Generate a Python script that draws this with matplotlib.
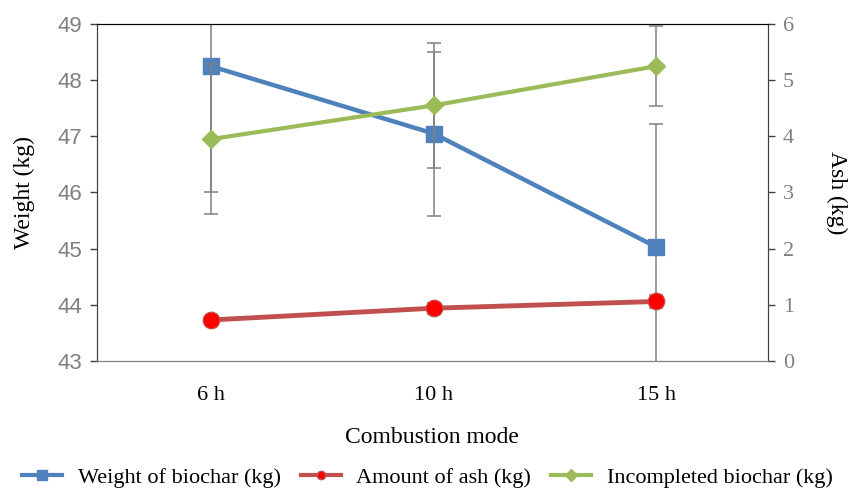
import matplotlib
matplotlib.use('Agg')
from matplotlib import pyplot as plt
from matplotlib.lines import Line2D

modes = ['6 h', '10 h', '15 h']
biochar = [48.25, 47.05, 45.03]
biochar_err = [2.25, 1.46, 2.19]
ash = [0.73, 0.94, 1.06]
ash_err = [0.05, 0.1, 0.12]
incompleted = [3.95, 4.55, 5.25]
incompleted_err = [1.33, 1.12, 0.71]

serif = 'Liberation Serif'
blue, red_line, red_dot, green = '#4F81BD', '#C0504D', '#FF0000', '#9BBB59'
err_kw = dict(ecolor='#808080', elinewidth=1.1, capsize=5, capthick=1.1)

fig = plt.figure(figsize=(8.55, 4.9), dpi=100)
ax = fig.add_axes([0.1135, 0.2633, 0.7845, 0.6877])
ax2 = ax.twinx()

x = list(range(len(modes)))
ax.errorbar(x, biochar, yerr=biochar_err, fmt='none', zorder=1, **err_kw)
ax.plot(x, biochar, color=blue, lw=3.2, marker='s', ms=11, zorder=3)

ax2.errorbar(x, ash, yerr=ash_err, fmt='none', zorder=1, **err_kw)
ax2.errorbar(x, incompleted, yerr=incompleted_err, fmt='none', zorder=1, **err_kw)
ax2.plot(x, ash, color=red_line, lw=3.5, marker='o', ms=12,
         mfc=red_dot, mec=red_line, mew=0.8, zorder=3)
ax2.plot(x, incompleted, color=green, lw=3, marker='D', ms=9, zorder=3)

ax.set_xlim(-0.51, 2.5)
ax.set_ylim(43, 49)
ax2.set_ylim(0, 6)
ax.set_xticks(x)
ax.set_xticklabels(modes, fontfamily=serif, fontsize=16)
ax.tick_params(axis='x', length=0, pad=18)
ax.tick_params(axis='y', colors='#404040', labelcolor='#808080', labelsize=16, length=5, width=1, pad=6)
ax2.tick_params(axis='y', colors='#404040', labelcolor='#808080', labelsize=16, length=5, width=1, pad=6)
for t in ax.get_yticklabels():
    t.set_fontfamily('Liberation Sans')
for t in ax2.get_yticklabels():
    t.set_fontfamily(serif)

ax.set_ylabel('Weight (kg)', fontfamily=serif, fontsize=17, labelpad=16)
ax2.set_ylabel('Ash (kg)', fontfamily=serif, fontsize=17, rotation=270, labelpad=38)
ax.set_xlabel('Combustion mode', fontfamily=serif, fontsize=17, labelpad=16)

for a in (ax, ax2):
    a.spines['top'].set_color('#000000')
    a.spines['left'].set_color('#404040')
    a.spines['right'].set_color('#404040')
    a.spines['bottom'].set_color('#808080')

handles = [
    Line2D([], [], color=blue, lw=3, marker='s', ms=7),
    Line2D([], [], color=red_line, lw=3, marker='o', ms=6, mfc=red_dot, mec=red_line),
    Line2D([], [], color=green, lw=3, marker='D', ms=6),
]
labels = ['Weight of biochar (kg)', 'Amount of ash (kg)', 'Incompleted biochar (kg)']
fig.legend(handles, labels, loc='lower center', bbox_to_anchor=(0.5, -0.036), ncol=3,
           frameon=False, prop={'family': serif, 'size': 16}, handlelength=1.8,
           columnspacing=0.9, handletextpad=0.7)

fig.savefig('out.png', dpi=100)
